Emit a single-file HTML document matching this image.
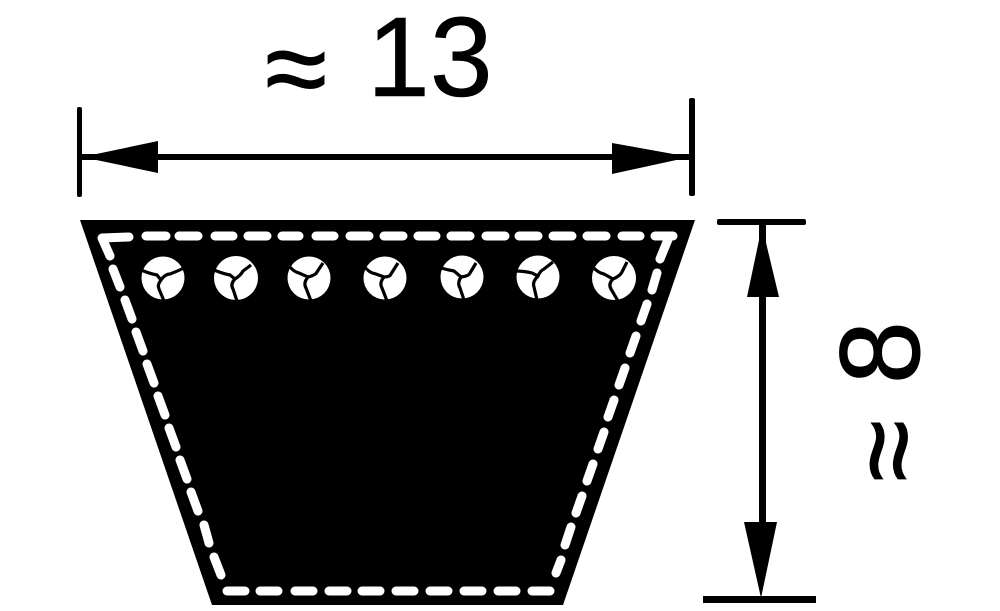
<!DOCTYPE html>
<html><head><meta charset="utf-8"><style>
html,body{margin:0;padding:0;background:#fff;width:1000px;height:611px;overflow:hidden}
svg{display:block}
text{font-family:"Liberation Sans",sans-serif;fill:#000;stroke:#000}
</style></head><body>
<svg width="1000" height="611" viewBox="0 0 1000 611" xmlns="http://www.w3.org/2000/svg">
<rect width="1000" height="611" fill="#fff"/>
<polygon points="80,220 695,220 563,605 212,605" fill="#000"/>
<g stroke="#fff" stroke-width="9" stroke-linecap="round" stroke-linejoin="round" fill="none">
<path d="M129,237 L102,238 L110,256"/>
<path d="M673,236 L655,236"/><path d="M669,237 L660,259"/>
<path d="M146,236H166M179,236H198M215,236H233M248,236H267M282,236H299M316,236H334M350,236H369M384,236H403M418,236H436M451,236H470M486,236H505M519,236H538M553,236H572M587,236H606M622,236H640"/>
<path d="M113,269L120,287M125,300L132,319M136,332L143,351M147,364L154,383M158,396L165,415M169,428L176,447M180,460L187,479M191,492L198,511M204,525L209,543M214,557L221,575"/>
<path d="M657,273L652,290M647,304L641,321M636,336L630,353M625,368L619,385M614,400L608,417M604,432L598,449M593,464L587,481M582,496L576,513M571,527L565,545M561,560L556,573"/>
<path d="M227,591H245M260,591H278M295,591H313M329,591H347M362,591H380M396,591H414M430,591H448M464,591H482M498,591H516M532,591H550"/>
</g>
<g fill="#fff">
<circle cx="163" cy="278" r="21.5"/><circle cx="236" cy="278" r="22"/><circle cx="309" cy="278" r="21.5"/><circle cx="385" cy="278" r="21.5"/><circle cx="462" cy="277" r="21.5"/><circle cx="538" cy="277" r="21.5"/><circle cx="614" cy="278" r="22"/>
</g>
<g fill="none" stroke="#000" stroke-width="3.2">
<path transform="translate(163,278)" d="M-22,-8 Q-12,-4 -6,-3 L-2,2 Q2,-4 7,-4 Q15,-7 23,-11 M-2,2 Q-6,7 -4,11 L1,23"/>
<path transform="translate(236,278)" d="M-22,-8 Q-12,-4 -6,-3 L-1,1 Q5,-3 7,-7 L15,-13 M-1,1 Q-6,6 -3,11 L1,23"/>
<path transform="translate(309,278)" d="M-20,-12 Q-15,-6 -10,-5 L-1,-1 Q7,-3 8,-6 L14,-15 M-1,-1 Q-6,5 -3,10 L2,23"/>
<path transform="translate(385,278)" d="M-21,-12 Q-16,-5 -9,-4 L-1,-1 Q5,-1 6,-4 L13,-15 M-1,-1 Q-6,5 -3,10 L2,23"/>
<path transform="translate(462,277)" d="M-21,-9 Q-14,-7 -8,-6 L-1,0 Q7,-1 8,-4 L14,-14 M-1,0 Q-5,6 -2,11 L2,23"/>
<path transform="translate(538,277)" d="M-23,-6 Q-14,-6 -6,-4 L0,-1 Q2,-6 6,-8 L15,-15 M0,-1 Q-6,5 -4,10 L-1,23"/>
<path transform="translate(614,278)" d="M-22,-12 Q-16,-5 -10,-4 L-1,1 Q6,-2 8,-6 L13,-16 M-1,1 Q-6,6 -3,11 L4,23"/>
</g>
<g fill="#000" stroke="none">
<rect x="82" y="154" width="608" height="6"/>
<polygon points="82,157 158,141 158,173"/>
<polygon points="690,157 612,143 612,174"/>
<rect x="77" y="107" width="5" height="90" rx="2"/>
<rect x="689" y="98" width="6" height="98" rx="2"/>
<rect x="717" y="219" width="89" height="6" rx="2"/>
<rect x="759" y="225" width="7" height="300"/>
<polygon points="762,226 747,297 779,297"/>
<polygon points="744,522 777,522 761,598"/>
<rect x="703" y="596" width="113" height="7"/>
</g>
<text x="265" y="107" font-size="113" stroke-width="1">≈</text>
<text x="367" y="96" font-size="113" stroke-width="0.6">13</text>
<text transform="translate(926,482) rotate(-90)" font-size="113" stroke-width="1">≈</text>
<text transform="translate(919,384) rotate(-90)" font-size="113" stroke-width="1">8</text>
</svg>
</body></html>
